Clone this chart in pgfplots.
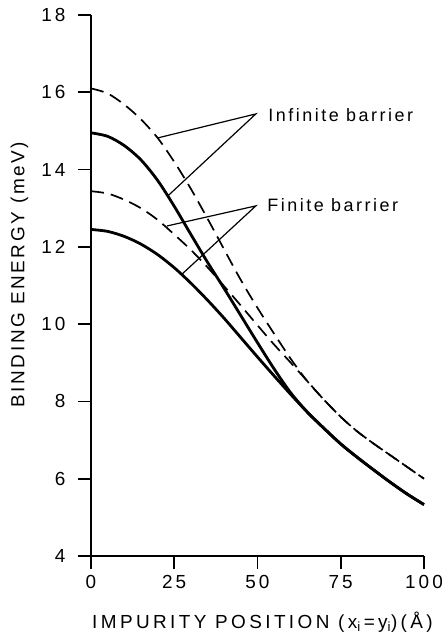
\documentclass[border=0pt]{standalone}
\usepackage{fontspec}
\setmainfont{Liberation Sans}
\newfontfamily\lab[LetterSpace=14]{Liberation Sans}
\newfontfamily\labx[LetterSpace=18]{Liberation Sans}
\newfontfamily\tck[LetterSpace=16]{Liberation Sans}
\usepackage{pgfplots}
\pgfplotsset{compat=1.18}
\begin{document}
\begin{tikzpicture}[x=1bp,y=1bp]
\begin{axis}[
  at={(0,0)}, anchor=south west,
  scale only axis, width=333bp, height=541bp,
  xmin=0, xmax=100, ymin=4, ymax=18,
  axis lines=left, axis line style={-, line width=1.8bp},
  xtick={0,25,50,75,100}, ytick={4,6,8,10,12,14,16,18},
  tick align=outside, major tick length=13bp,
  tick style={line width=1.6bp, black},
  ticklabel style={font=\tck\fontsize{19}{22}\selectfont},
  yticklabel style={xshift=-9bp},
  xticklabel style={yshift=-3bp},
  /pgf/number format/assume math mode=true,
  xlabel={IMPURITY POSITION (x\textsubscript{i}\,=\,y\textsubscript{i})(Å)},
  ylabel={BINDING ENERGY (meV)},
  xlabel style={at={(axis description cs:0.515,-0.122)}, anchor=center, font=\labx\fontsize{19}{22}\selectfont},
  ylabel style={at={(axis description cs:-0.215,0.52)}, anchor=center, font=\lab\fontsize{19}{22}\selectfont},
  clip=false,
]
% Infinite barrier, dashed
\addplot[black, line width=1.7bp, dash pattern=on 13bp off 7bp, smooth] coordinates {
 (0,16.1) (5,15.97) (10,15.68) (15,15.3) (20,14.82) (25,14.2) (30,13.5) (35,12.73) (40,11.93) (45,11.14) (50,10.42) (55,9.75) (60,9.1) (65,8.52) (70,8.04) (75,7.6) (80,7.22) (85,6.9) (90,6.6) (95,6.3) (100,6.0)};
% Finite barrier, dashed
\addplot[black, line width=1.7bp, dash pattern=on 13bp off 7bp, smooth] coordinates {
 (0,13.44) (5,13.38) (10,13.22) (15,13.0) (20,12.7) (25,12.32) (30,11.92) (35,11.47) (40,10.98) (45,10.48) (50,9.97) (55,9.47) (60,9.0) (65,8.52) (70,8.04) (75,7.6) (80,7.22) (85,6.9) (90,6.6) (95,6.3) (100,6.0)};
% Infinite barrier, solid
\addplot[black, line width=2.8bp, smooth] coordinates {
 (0,14.95) (5,14.86) (10,14.62) (15,14.25) (20,13.72) (25,13.05) (30,12.32) (35,11.6) (40,10.92) (45,10.22) (50,9.52) (55,8.84) (60,8.22) (65,7.72) (70,7.3) (75,6.9) (80,6.55) (85,6.22) (90,5.9) (95,5.6) (100,5.33)};
% Finite barrier, solid
\addplot[black, line width=2.8bp, smooth] coordinates {
 (0,12.45) (5,12.4) (10,12.27) (15,12.07) (20,11.8) (25,11.46) (30,11.06) (35,10.62) (40,10.15) (45,9.65) (50,9.15) (55,8.66) (60,8.18) (65,7.72) (70,7.3) (75,6.9) (80,6.55) (85,6.22) (90,5.9) (95,5.6) (100,5.33)};
% annotations
\draw[line width=1.2bp] (axis cs:20.1,14.82) -- (axis cs:49.5,15.44) -- (axis cs:23.1,13.32);
\draw[line width=1.2bp] (axis cs:22.8,12.54) -- (axis cs:49.5,13.06) -- (axis cs:27.4,11.3);
\node[anchor=base west, inner sep=0, font=\lab\fontsize{18}{21}\selectfont] at (axis cs:53.2,15.24) {Infinite barrier};
\node[anchor=base west, inner sep=0, font=\lab\fontsize{18}{21}\selectfont] at (axis cs:52.9,12.91) {Finite barrier};
\end{axis}
\pgfresetboundingbox
\path (-91,-80) rectangle (356,556);
\end{tikzpicture}
\end{document}
